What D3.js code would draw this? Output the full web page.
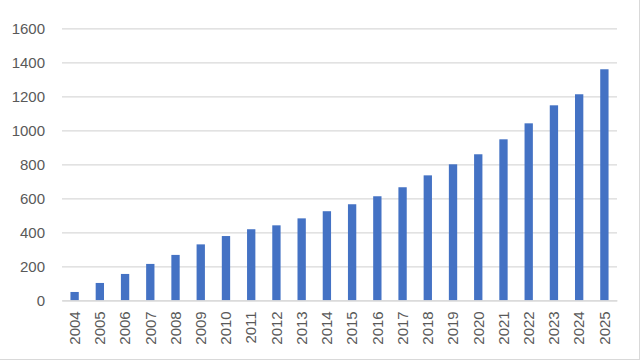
<!DOCTYPE html>
<html>
<head>
<meta charset="utf-8">
<script src="https://cdn.jsdelivr.net/npm/d3@7"></script>
<style>
  html, body { margin: 0; padding: 0; background: #fff; }
  svg { display: block; }
</style>
</head>
<body>
<svg id="chart" width="640" height="360"></svg>
<script>
const years = ["2004","2005","2006","2007","2008","2009","2010","2011","2012","2013","2014","2015","2016","2017","2018","2019","2020","2021","2022","2023","2024","2025"];
const values = [49, 102, 155, 214, 267, 329, 378, 418, 441, 482, 524, 565, 612, 665, 735, 800, 859, 947, 1041, 1147, 1212, 1359];
const yTicks = [0, 200, 400, 600, 800, 1000, 1200, 1400, 1600];

const svg = d3.select("#chart");
const W = 640, H = 360;
const margin = { left: 62, right: 23, top: 28.3, bottom: 59.7 };
const x = d3.scaleBand().domain(years).range([margin.left, W - margin.right]).paddingInner(0.67).paddingOuter(0.335);
const y = d3.scaleLinear().domain([0, 1600]).range([H - margin.bottom, margin.top]);

const font = "'Liberation Sans', Arial, sans-serif";
const textColor = "#595959";

// chart border (right & bottom visible)
svg.append("line").attr("x1", W - 0.5).attr("x2", W - 0.5).attr("y1", 0).attr("y2", H).attr("stroke", "#d9d9d9");
svg.append("line").attr("x1", 0).attr("x2", W).attr("y1", H - 0.5).attr("y2", H - 0.5).attr("stroke", "#d9d9d9");

// gridlines + y axis
const yAxis = d3.axisLeft(y).tickValues(yTicks).tickSize(-(W - margin.left - margin.right)).tickPadding(17).tickFormat(d3.format("d"));
const gy = svg.append("g").attr("transform", `translate(${margin.left},0)`).call(yAxis);
gy.select(".domain").remove();
gy.selectAll(".tick line").attr("stroke", "#d9d9d9").attr("stroke-width", 1.2);
gy.selectAll(".tick text").attr("fill", textColor).style("font-family", font).style("font-size", "15px");

// bars
svg.append("g").selectAll("rect").data(values).join("rect")
  .attr("x", (d, i) => x(years[i]))
  .attr("width", x.bandwidth())
  .attr("y", d => y(d))
  .attr("height", d => y(0) - y(d))
  .attr("fill", "#4472C4");

// x axis
const xAxis = d3.axisBottom(x).tickSize(0).tickPadding(0);
const gx = svg.append("g").attr("transform", `translate(0,${y(0)})`).call(xAxis);
gx.select(".domain").attr("stroke", "#d9d9d9").attr("stroke-width", 1.2);
gx.selectAll(".tick text")
  .attr("fill", textColor)
  .style("font-family", font).style("font-size", "15px")
  .attr("text-anchor", "end")
  .attr("transform", "rotate(-90)")
  .attr("x", -11)
  .attr("y", 0)
  .attr("dy", "0.35em");
</script>
</body>
</html>
